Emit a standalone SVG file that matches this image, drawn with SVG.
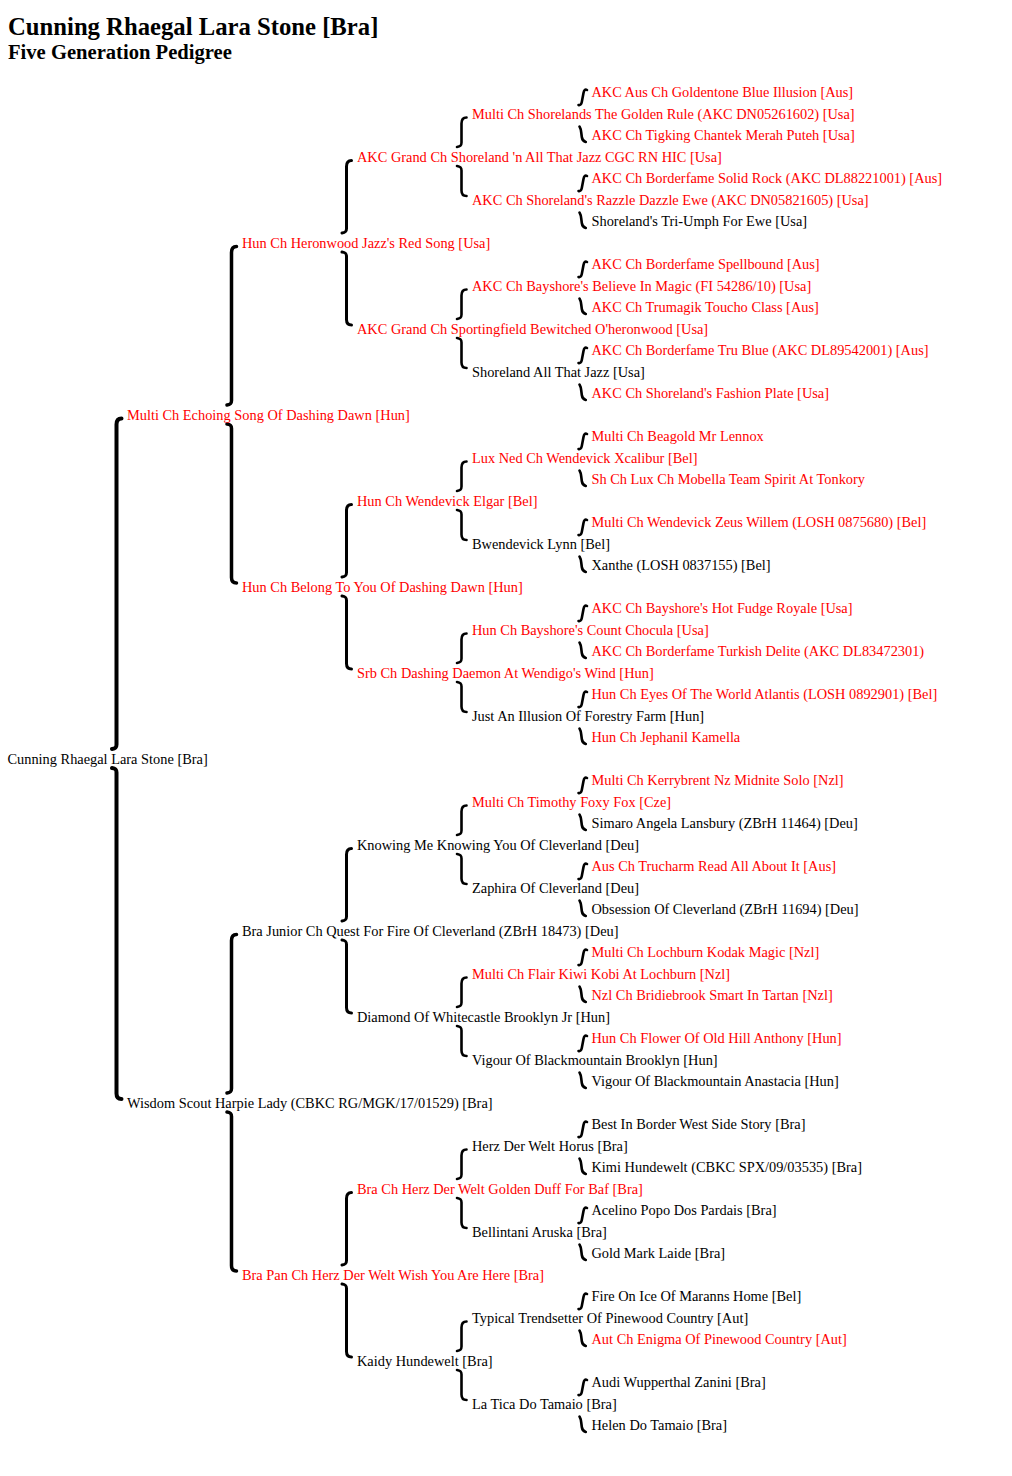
<svg xmlns="http://www.w3.org/2000/svg" xmlns:xlink="http://www.w3.org/1999/xlink" width="1012" height="1476" viewBox="0 0 1012 1476">
<style>
text{font-family:"Liberation Serif","Times New Roman",serif;font-size:14.37px;fill:#000}
.r{fill:#f00}
.t1{font-size:24.7px;font-weight:bold}
.t2{font-size:20.6px;font-weight:bold}
.b{fill:none;stroke:#000;stroke-linecap:round;stroke-linejoin:round}
.b0{stroke-width:4}
.b1{stroke-width:3.5}
.b2{stroke-width:3}
.b3{stroke-width:2.6}
.b4{stroke-width:2.6}
</style>
<defs>
<path id="su" class="b b4" d="M587,-23.5 C585.3,-24.5 584,-23.5 583.5,-20.5 L581.8,-11.5 C581.3,-9 580,-8 578.5,-8.5"/>
<path id="sl" class="b b4" d="M579.5,13 C580.5,14.5 581,16.5 581.3,19.5 L581.8,23.5 C582.2,26.5 583.8,28 585.8,28.5"/>
</defs>
<rect width="1012" height="1476" fill="#fff"/>
<g id="title">
<text class="t1" x="8" y="35">Cunning Rhaegal Lara Stone [Bra]</text>
<text class="t2" x="8" y="59">Five Generation Pedigree</text>
</g>
<g id="connectors">
<path class="b b0" d="M121.5,418.5 C118.5,418.5 116.5,420.5 116.5,424.5 L116.5,744.5 C116.5,747.5 115.5,748.5 112,749"/>
<path class="b b0" d="M112,768 C115.5,768.5 116.5,769.5 116.5,772.5 L116.5,1093.5 C116.5,1097.5 118.5,1099 121.5,1099"/>
<path class="b b1" d="M236.5,246.5 C233.5,246.5 231.5,248.5 231.5,252.5 L231.5,400.5 C231.5,403.5 230.5,404.5 227,405"/>
<path class="b b1" d="M227,424 C230.5,424.5 231.5,425.5 231.5,428.5 L231.5,577.5 C231.5,581.5 233.5,583 236.5,583"/>
<path class="b b1" d="M236.5,934.5 C233.5,934.5 231.5,936.5 231.5,940.5 L231.5,1088.5 C231.5,1091.5 230.5,1092.5 227,1093"/>
<path class="b b1" d="M227,1112 C230.5,1112.5 231.5,1113.5 231.5,1116.5 L231.5,1265.5 C231.5,1269.5 233.5,1271 236.5,1271"/>
<path class="b b2" d="M351.5,160.5 C348.5,160.5 346.5,162.5 346.5,166.5 L346.5,228.5 C346.5,231.5 345.5,232.5 342,233"/>
<path class="b b2" d="M342,252 C345.5,252.5 346.5,253.5 346.5,256.5 L346.5,319.5 C346.5,323.5 348.5,325 351.5,325"/>
<path class="b b2" d="M351.5,504.5 C348.5,504.5 346.5,506.5 346.5,510.5 L346.5,572.5 C346.5,575.5 345.5,576.5 342,577"/>
<path class="b b2" d="M342,596 C345.5,596.5 346.5,597.5 346.5,600.5 L346.5,663.5 C346.5,667.5 348.5,669 351.5,669"/>
<path class="b b2" d="M351.5,848.5 C348.5,848.5 346.5,850.5 346.5,854.5 L346.5,916.5 C346.5,919.5 345.5,920.5 342,921"/>
<path class="b b2" d="M342,940 C345.5,940.5 346.5,941.5 346.5,944.5 L346.5,1007.5 C346.5,1011.5 348.5,1013 351.5,1013"/>
<path class="b b2" d="M351.5,1192.5 C348.5,1192.5 346.5,1194.5 346.5,1198.5 L346.5,1260.5 C346.5,1263.5 345.5,1264.5 342,1265"/>
<path class="b b2" d="M342,1284 C345.5,1284.5 346.5,1285.5 346.5,1288.5 L346.5,1351.5 C346.5,1355.5 348.5,1357 351.5,1357"/>
<path class="b b3" d="M466.5,117.5 C463.5,117.5 461.5,119.5 461.5,123.5 L461.5,142.5 C461.5,145.5 460.5,146.5 457,147"/>
<path class="b b3" d="M457,166 C460.5,166.5 461.5,167.5 461.5,170.5 L461.5,190.5 C461.5,194.5 463.5,196 466.5,196"/>
<path class="b b3" d="M466.5,289.5 C463.5,289.5 461.5,291.5 461.5,295.5 L461.5,314.5 C461.5,317.5 460.5,318.5 457,319"/>
<path class="b b3" d="M457,338 C460.5,338.5 461.5,339.5 461.5,342.5 L461.5,362.5 C461.5,366.5 463.5,368 466.5,368"/>
<path class="b b3" d="M466.5,461.5 C463.5,461.5 461.5,463.5 461.5,467.5 L461.5,486.5 C461.5,489.5 460.5,490.5 457,491"/>
<path class="b b3" d="M457,510 C460.5,510.5 461.5,511.5 461.5,514.5 L461.5,534.5 C461.5,538.5 463.5,540 466.5,540"/>
<path class="b b3" d="M466.5,633.5 C463.5,633.5 461.5,635.5 461.5,639.5 L461.5,658.5 C461.5,661.5 460.5,662.5 457,663"/>
<path class="b b3" d="M457,682 C460.5,682.5 461.5,683.5 461.5,686.5 L461.5,706.5 C461.5,710.5 463.5,712 466.5,712"/>
<path class="b b3" d="M466.5,805.5 C463.5,805.5 461.5,807.5 461.5,811.5 L461.5,830.5 C461.5,833.5 460.5,834.5 457,835"/>
<path class="b b3" d="M457,854 C460.5,854.5 461.5,855.5 461.5,858.5 L461.5,878.5 C461.5,882.5 463.5,884 466.5,884"/>
<path class="b b3" d="M466.5,977.5 C463.5,977.5 461.5,979.5 461.5,983.5 L461.5,1002.5 C461.5,1005.5 460.5,1006.5 457,1007"/>
<path class="b b3" d="M457,1026 C460.5,1026.5 461.5,1027.5 461.5,1030.5 L461.5,1050.5 C461.5,1054.5 463.5,1056 466.5,1056"/>
<path class="b b3" d="M466.5,1149.5 C463.5,1149.5 461.5,1151.5 461.5,1155.5 L461.5,1174.5 C461.5,1177.5 460.5,1178.5 457,1179"/>
<path class="b b3" d="M457,1198 C460.5,1198.5 461.5,1199.5 461.5,1202.5 L461.5,1222.5 C461.5,1226.5 463.5,1228 466.5,1228"/>
<path class="b b3" d="M466.5,1321.5 C463.5,1321.5 461.5,1323.5 461.5,1327.5 L461.5,1346.5 C461.5,1349.5 460.5,1350.5 457,1351"/>
<path class="b b3" d="M457,1370 C460.5,1370.5 461.5,1371.5 461.5,1374.5 L461.5,1394.5 C461.5,1398.5 463.5,1400 466.5,1400"/>
<use href="#su" y="113.5"/><use href="#sl" y="113.5"/>
<use href="#su" y="199.5"/><use href="#sl" y="199.5"/>
<use href="#su" y="285.5"/><use href="#sl" y="285.5"/>
<use href="#su" y="371.5"/><use href="#sl" y="371.5"/>
<use href="#su" y="457.5"/><use href="#sl" y="457.5"/>
<use href="#su" y="543.5"/><use href="#sl" y="543.5"/>
<use href="#su" y="629.5"/><use href="#sl" y="629.5"/>
<use href="#su" y="715.5"/><use href="#sl" y="715.5"/>
<use href="#su" y="801.5"/><use href="#sl" y="801.5"/>
<use href="#su" y="887.5"/><use href="#sl" y="887.5"/>
<use href="#su" y="973.5"/><use href="#sl" y="973.5"/>
<use href="#su" y="1059.5"/><use href="#sl" y="1059.5"/>
<use href="#su" y="1145.5"/><use href="#sl" y="1145.5"/>
<use href="#su" y="1231.5"/><use href="#sl" y="1231.5"/>
<use href="#su" y="1317.5"/><use href="#sl" y="1317.5"/>
<use href="#su" y="1403.5"/><use href="#sl" y="1403.5"/>
</g>
<g id="n0"><text class="r" x="591.5" y="97">AKC Aus Ch Goldentone Blue Illusion [Aus]</text></g>
<g id="n1"><text class="r" x="472" y="118.5">Multi Ch Shorelands The Golden Rule (AKC DN05261602) [Usa]</text></g>
<g id="n2"><text class="r" x="591.5" y="140">AKC Ch Tigking Chantek Merah Puteh [Usa]</text></g>
<g id="n3"><text class="r" x="357" y="161.5">AKC Grand Ch Shoreland 'n All That Jazz CGC RN HIC [Usa]</text></g>
<g id="n4"><text class="r" x="591.5" y="183">AKC Ch Borderfame Solid Rock (AKC DL88221001) [Aus]</text></g>
<g id="n5"><text class="r" x="472" y="204.5">AKC Ch Shoreland's Razzle Dazzle Ewe (AKC DN05821605) [Usa]</text></g>
<g id="n6"><text x="591.5" y="226">Shoreland's Tri-Umph For Ewe [Usa]</text></g>
<g id="n7"><text class="r" x="242" y="247.5">Hun Ch Heronwood Jazz's Red Song [Usa]</text></g>
<g id="n8"><text class="r" x="591.5" y="269">AKC Ch Borderfame Spellbound [Aus]</text></g>
<g id="n9"><text class="r" x="472" y="290.5">AKC Ch Bayshore's Believe In Magic (FI 54286/10) [Usa]</text></g>
<g id="n10"><text class="r" x="591.5" y="312">AKC Ch Trumagik Toucho Class [Aus]</text></g>
<g id="n11"><text class="r" x="357" y="333.5">AKC Grand Ch Sportingfield Bewitched O'heronwood [Usa]</text></g>
<g id="n12"><text class="r" x="591.5" y="355">AKC Ch Borderfame Tru Blue (AKC DL89542001) [Aus]</text></g>
<g id="n13"><text x="472" y="376.5">Shoreland All That Jazz [Usa]</text></g>
<g id="n14"><text class="r" x="591.5" y="398">AKC Ch Shoreland's Fashion Plate [Usa]</text></g>
<g id="n15"><text class="r" x="127" y="419.5">Multi Ch Echoing Song Of Dashing Dawn [Hun]</text></g>
<g id="n16"><text class="r" x="591.5" y="441">Multi Ch Beagold Mr Lennox</text></g>
<g id="n17"><text class="r" x="472" y="462.5">Lux Ned Ch Wendevick Xcalibur [Bel]</text></g>
<g id="n18"><text class="r" x="591.5" y="484">Sh Ch Lux Ch Mobella Team Spirit At Tonkory</text></g>
<g id="n19"><text class="r" x="357" y="505.5">Hun Ch Wendevick Elgar [Bel]</text></g>
<g id="n20"><text class="r" x="591.5" y="527">Multi Ch Wendevick Zeus Willem (LOSH 0875680) [Bel]</text></g>
<g id="n21"><text x="472" y="548.5">Bwendevick Lynn [Bel]</text></g>
<g id="n22"><text x="591.5" y="570">Xanthe (LOSH 0837155) [Bel]</text></g>
<g id="n23"><text class="r" x="242" y="591.5">Hun Ch Belong To You Of Dashing Dawn [Hun]</text></g>
<g id="n24"><text class="r" x="591.5" y="613">AKC Ch Bayshore's Hot Fudge Royale [Usa]</text></g>
<g id="n25"><text class="r" x="472" y="634.5">Hun Ch Bayshore's Count Chocula [Usa]</text></g>
<g id="n26"><text class="r" x="591.5" y="656">AKC Ch Borderfame Turkish Delite (AKC DL83472301)</text></g>
<g id="n27"><text class="r" x="357" y="677.5">Srb Ch Dashing Daemon At Wendigo's Wind [Hun]</text></g>
<g id="n28"><text class="r" x="591.5" y="699">Hun Ch Eyes Of The World Atlantis (LOSH 0892901) [Bel]</text></g>
<g id="n29"><text x="472" y="720.5">Just An Illusion Of Forestry Farm [Hun]</text></g>
<g id="n30"><text class="r" x="591.5" y="742">Hun Ch Jephanil Kamella</text></g>
<g id="n31"><text x="7.5" y="763.5">Cunning Rhaegal Lara Stone [Bra]</text></g>
<g id="n32"><text class="r" x="591.5" y="785">Multi Ch Kerrybrent Nz Midnite Solo [Nzl]</text></g>
<g id="n33"><text class="r" x="472" y="806.5">Multi Ch Timothy Foxy Fox [Cze]</text></g>
<g id="n34"><text x="591.5" y="828">Simaro Angela Lansbury (ZBrH 11464) [Deu]</text></g>
<g id="n35"><text x="357" y="849.5">Knowing Me Knowing You Of Cleverland [Deu]</text></g>
<g id="n36"><text class="r" x="591.5" y="871">Aus Ch Trucharm Read All About It [Aus]</text></g>
<g id="n37"><text x="472" y="892.5">Zaphira Of Cleverland [Deu]</text></g>
<g id="n38"><text x="591.5" y="914">Obsession Of Cleverland (ZBrH 11694) [Deu]</text></g>
<g id="n39"><text x="242" y="935.5">Bra Junior Ch Quest For Fire Of Cleverland (ZBrH 18473) [Deu]</text></g>
<g id="n40"><text class="r" x="591.5" y="957">Multi Ch Lochburn Kodak Magic [Nzl]</text></g>
<g id="n41"><text class="r" x="472" y="978.5">Multi Ch Flair Kiwi Kobi At Lochburn [Nzl]</text></g>
<g id="n42"><text class="r" x="591.5" y="1000">Nzl Ch Bridiebrook Smart In Tartan [Nzl]</text></g>
<g id="n43"><text x="357" y="1021.5">Diamond Of Whitecastle Brooklyn Jr [Hun]</text></g>
<g id="n44"><text class="r" x="591.5" y="1043">Hun Ch Flower Of Old Hill Anthony [Hun]</text></g>
<g id="n45"><text x="472" y="1064.5">Vigour Of Blackmountain Brooklyn [Hun]</text></g>
<g id="n46"><text x="591.5" y="1086">Vigour Of Blackmountain Anastacia [Hun]</text></g>
<g id="n47"><text x="127" y="1107.5">Wisdom Scout Harpie Lady (CBKC RG/MGK/17/01529) [Bra]</text></g>
<g id="n48"><text x="591.5" y="1129">Best In Border West Side Story [Bra]</text></g>
<g id="n49"><text x="472" y="1150.5">Herz Der Welt Horus [Bra]</text></g>
<g id="n50"><text x="591.5" y="1172">Kimi Hundewelt (CBKC SPX/09/03535) [Bra]</text></g>
<g id="n51"><text class="r" x="357" y="1193.5">Bra Ch Herz Der Welt Golden Duff For Baf [Bra]</text></g>
<g id="n52"><text x="591.5" y="1215">Acelino Popo Dos Pardais [Bra]</text></g>
<g id="n53"><text x="472" y="1236.5">Bellintani Aruska [Bra]</text></g>
<g id="n54"><text x="591.5" y="1258">Gold Mark Laide [Bra]</text></g>
<g id="n55"><text class="r" x="242" y="1279.5">Bra Pan Ch Herz Der Welt Wish You Are Here [Bra]</text></g>
<g id="n56"><text x="591.5" y="1301">Fire On Ice Of Maranns Home [Bel]</text></g>
<g id="n57"><text x="472" y="1322.5">Typical Trendsetter Of Pinewood Country [Aut]</text></g>
<g id="n58"><text class="r" x="591.5" y="1344">Aut Ch Enigma Of Pinewood Country [Aut]</text></g>
<g id="n59"><text x="357" y="1365.5">Kaidy Hundewelt [Bra]</text></g>
<g id="n60"><text x="591.5" y="1387">Audi Wupperthal Zanini [Bra]</text></g>
<g id="n61"><text x="472" y="1408.5">La Tica Do Tamaio [Bra]</text></g>
<g id="n62"><text x="591.5" y="1430">Helen Do Tamaio [Bra]</text></g>
</svg>
